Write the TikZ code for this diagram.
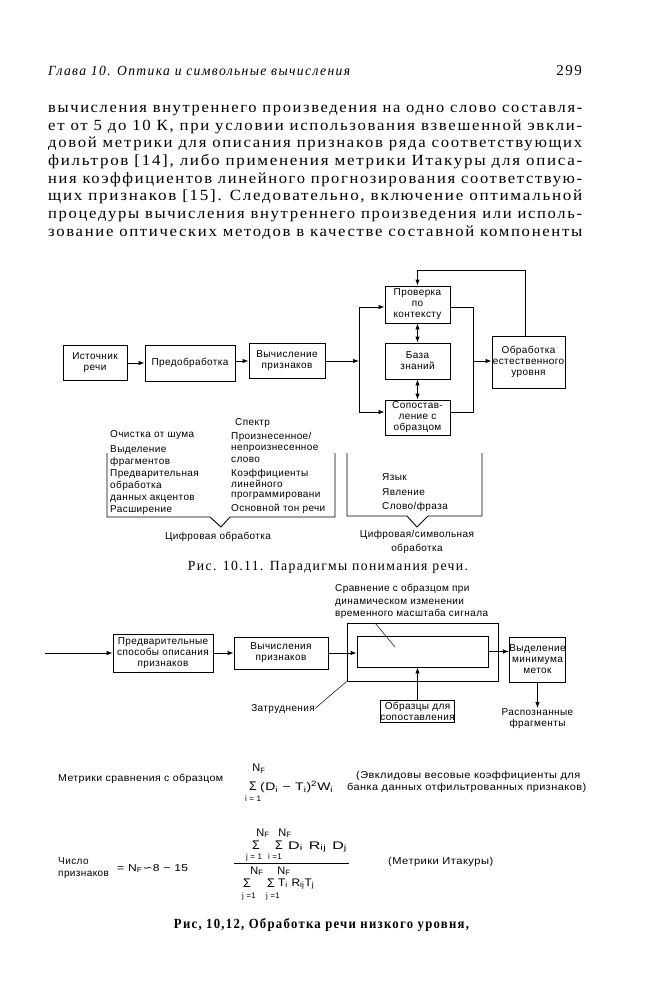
\documentclass[tikz,border=0pt]{standalone}
\usepackage{fontspec}
\usepackage{graphicx}
\setmainfont{Liberation Serif}
\newfontfamily\bodyfont[LetterSpace=10]{Liberation Serif}
\newfontfamily\sfnt[LetterSpace=4]{Liberation Sans}
\newfontfamily\symfnt{DejaVu Sans}
\usetikzlibrary{arrows.meta}
\newcommand{\dfont}{\sfnt\fontsize{10}{11}\selectfont}
\newcommand{\ffont}{\sfnt\fontsize{10}{11}\selectfont}
\newcommand{\fbody}{\sfnt\fontsize{11}{12}\selectfont}
\newcommand{\flim}{\sfnt\fontsize{8}{9}\selectfont}
\newcommand{\bodysz}{\bodyfont\fontsize{15.5}{17.7}\selectfont}
\newcommand{\sgm}{{\sfnt\fontsize{12.5}{13}\selectfont Σ}}
\newcommand{\NF}{N\textsubscript{F}}
\newcommand{\fitw}[2]{\resizebox{#1}{\height}{#2}}
\tikzset{
  box/.style={draw, line width=0.9pt, inner sep=0pt, align=center, font=\dfont},
  arr/.style={-{Latex[length=6pt,width=4.5pt]}, line width=0.9pt},
  darr/.style={{Latex[length=6pt,width=4.5pt]}-{Latex[length=6pt,width=4.5pt]}, line width=0.9pt},
  ln/.style={line width=0.9pt},
  thinln/.style={line width=0.5pt},
  lbl/.style={font=\dfont, inner sep=0pt, anchor=base west},
  lblc/.style={font=\dfont, inner sep=0pt, anchor=base},
  body/.style={font=\bodysz, inner sep=0pt, anchor=base west},
  fml/.style={font=\fbody, inner sep=0pt, anchor=base},
  fmlw/.style={font=\fbody, inner sep=0pt, anchor=base west},
  flm/.style={font=\flim, inner sep=0pt, anchor=base},
  ftx/.style={font=\ffont, inner sep=0pt, anchor=base west},
  sig/.style={inner sep=0pt, anchor=base},
}
\begin{document}
\begin{tikzpicture}[x=1pt,y=-1pt]
\path[use as bounding box, fill=white] (0,0) rectangle (654,1000);

% ---------- header ----------
\node[inner sep=0pt, anchor=base west, font=\bodyfont\itshape\fontsize{14}{16}\selectfont] (hdr) at (48,76) {\fitw{302pt}{Глава 10. Оптика и символьные вычисления}};
\node[inner sep=0pt, anchor=base east, font=\bodyfont\fontsize{15}{17}\selectfont] (pg) at (582,76) {299};

% ---------- body text ----------
\node[body] (t1) at (48,112.5) {\fitw{534pt}{вычисления внутреннего произведения на одно слово составля-}};
\node[body] (t2) at (48,130.2) {\fitw{534pt}{ет от 5 до 10 К, при условии использования взвешенной эвкли-}};
\node[body] (t3) at (48,147.9) {\fitw{534pt}{довой метрики для описания признаков ряда соответствующих}};
\node[body] (t4) at (48,165.6) {\fitw{534pt}{фильтров {[}14{]}, либо применения метрики Итакуры для описа-}};
\node[body] (t5) at (48,183.3) {\fitw{534pt}{ния коэффициентов линейного прогнозирования соответствую-}};
\node[body] (t6) at (48,201.0) {\fitw{534pt}{щих признаков {[}15{]}. Следовательно, включение оптимальной}};
\node[body] (t7) at (48,218.7) {\fitw{534pt}{процедуры вычисления внутреннего произведения или исполь-}};
\node[body] (t8) at (48,236.4) {\fitw{534pt}{зование оптических методов в качестве составной компоненты}};

% ---------- figure 10.11 ----------
\node[box, minimum width=64pt, minimum height=35pt] (src) at (95,363) {Источник\\речи};
\node[box, minimum width=90pt, minimum height=36pt] (pre) at (190,363) {Предобработка};
\node[box, minimum width=76pt, minimum height=35pt] (feat) at (287,361) {Вычисление\\признаков};
\node[box, minimum width=65pt, minimum height=37pt] (check) at (417.5,304.5) {Проверка\\по\\контексту};
\node[box, minimum width=65pt, minimum height=36pt] (kb) at (417.5,361) {База\\знаний};
\node[box, minimum width=65pt, minimum height=35pt] (match) at (417.5,417.5) {Сопостав-\\ление с\\образцом};
\node[box, minimum width=73pt, minimum height=52pt] (nat) at (528.5,362) {Обработка\\естественного\\уровня};

\coordinate (sT) at (359,307);
\coordinate (sM) at (359,361);
\coordinate (sB) at (359,412);
\coordinate (mT) at (473,307);
\coordinate (mM) at (473,361);
\coordinate (mB) at (473,412);
\coordinate (fb1) at (525,270);
\coordinate (fb2) at (417.5,270);

\draw[arr] (src.east |- pre.west) -- (pre.west);
\draw[arr] (pre.east |- feat.west) -- (feat.west);
\draw[arr] (feat.east) -- (sM);
\draw[ln] (sT) -- (sB);
\draw[arr] (sT) -- (sT -| check.west);
\draw[arr] (sB) -- (sB -| match.west);
\draw[darr] (check.south) -- (kb.north);
\draw[darr] (kb.south) -- (match.north);
\draw[ln] (mT -| check.east) -- (mT) -- (mB) -- (mB -| match.east);
\draw[arr] (mM) -- (mM -| nat.west);
\draw[arr] (fb1 |- nat.north) -- (fb1) -- (fb2) -- (check.north);

% lower labels
\node[lbl] (cs) at (235,425) {Спектр};
\node[lbl] (cl1) at (110,437) {Очистка от шума};
\node[lbl] (cl2) at (110,452) {Выделение};
\node[lbl] (cl3) at (110,464) {фрагментов};
\node[lbl] (cl4) at (110,476) {Предварительная};
\node[lbl] (cl5) at (110,488) {обработка};
\node[lbl] (cl6) at (110,500) {данных акцентов};
\node[lbl] (cl7) at (110,512) {Расширение};
\node[lbl] (cr1) at (231,439) {Произнесенное/};
\node[lbl] (cr2) at (231,450) {непроизнесенное};
\node[lbl] (cr3) at (231,462) {слово};
\node[lbl] (cr4) at (231,476) {Коэффициенты};
\node[lbl] (cr5) at (231,487) {линейного};
\node[lbl] (cr6) at (231,497) {программировани};
\node[lbl] (cr7) at (231,511) {Основной тон речи};
\node[lbl] (d1) at (382,480) {Язык};
\node[lbl] (d2) at (382,495) {Явление};
\node[lbl] (d3) at (382,509) {Слово/фраза};

\draw[ln] (107,453) -- (107,517) -- (210,517) -- (221,527) -- (230,517) -- (335,517) -- (335,453);
\draw[ln] (347,453) -- (347,516) -- (407,516) -- (417,527) -- (428,516) -- (482,516) -- (482,453);

\node[lblc] (cap1) at (218,539) {Цифровая обработка};
\node[lblc] (cap2a) at (417,537) {Цифровая/символьная};
\node[lblc] (cap2b) at (417,551) {обработка};

\node[inner sep=0pt, anchor=base, font=\bodyfont\fontsize{14}{16}\selectfont] (fig1) at (328,570) {\fitw{280pt}{Рис. 10.11. Парадигмы понимания речи.}};

% ---------- figure 10.12 ----------
\node[box, minimum width=100pt, minimum height=38pt] (b1) at (163,653) {Предварительные\\способы описания\\признаков};
\node[box, minimum width=94pt, minimum height=32pt] (b2) at (281,653) {Вычисления\\признаков};
\node[draw, line width=0.9pt, minimum width=151pt, minimum height=58pt, inner sep=0pt] (outer) at (422.5,652) {};
\node[draw, line width=0.9pt, minimum width=131pt, minimum height=31pt, inner sep=0pt] (inner) at (422.5,651.5) {};
\node[box, minimum width=51pt, minimum height=45pt] (sel) at (537.5,659.5) {Выделение\\минимума\\меток};
\node[box, minimum width=71pt, minimum height=22pt] (samp) at (417.5,711) {Образцы для\\сопоставления};
\coordinate (in0) at (45,653);

\draw[arr] (in0) -- (in0 -| b1.west);
\draw[arr] (b1.east) -- (b2.west);
\draw[arr] (b2.east) -- (b2.east -| inner.west);
\draw[arr] (inner.east) -- (inner.east -| sel.west);
\draw[arr] (samp.north) -- (samp.north |- inner.south);

\node[font=\dfont, inner sep=0pt, align=center, anchor=north] (rec) at (537.5,708) {Распознанные\\фрагменты};
\draw[arr] (sel.south) -- (rec.north);

\node[lbl] (dtw1) at (335,591) {Сравнение с образцом при};
\node[lbl] (dtw2) at (335,604) {динамическом изменении};
\node[lbl] (dtw3) at (335,616) {временного масштаба сигнала};
\coordinate (ld1) at (375,623);
\coordinate (ld2) at (395,647);
\draw[thinln] (ld1) -- (ld2);

\node[font=\dfont, inner sep=0pt, anchor=base east] (zat) at (315,711) {Затруднения};
\draw[thinln] (zat.east) -- (outer.south west);

% ---------- formulas ----------
\node[ftx] (m1) at (58,781.5) {\fitw{165pt}{Метрики сравнения с образцом}};
\node[sig] (f1s) at (253,790) {\sgm};
\node[fml] (f1n) at (259,771.5) {\NF};
\node[flm] (f1l) at (253,801.5) {i = 1};
\node[fmlw] (f1b) at (260,790.5) {\fitw{73pt}{(D\textsubscript{i} − T\textsubscript{i})\textsuperscript{2}W\textsubscript{i}}};
\node[ftx] (e1) at (356,778) {\fitw{224pt}{(Эвклидовы весовые коэффициенты для}};
\node[ftx] (e2) at (347,790) {\fitw{239pt}{банка данных отфильтрованных признаков)}};

\node[ftx] (n1) at (58,864) {Число};
\node[ftx] (n2) at (58,876.5) {признаков};
\node[ftx] (n3) at (117,871) {\fitw{71pt}{= \NF{\symfnt ∽}8 − 15}};

\node[fml] (a1) at (263,836) {\NF};
\node[fml] (a2) at (285,836) {\NF};
\node[sig] (a3) at (256,849) {\sgm};
\node[sig] (a4) at (279,849) {\sgm};
\node[flm] (a5) at (254,859) {j = 1};
\node[flm] (a6) at (275,859) {i =1};
\node[fmlw] (a7) at (288,849) {\fitw{59pt}{D\textsubscript{i}\hspace{4pt}R\textsubscript{ij}\hspace{4pt}D\textsubscript{j}}};
\draw[ln] (234,863) -- (349,863);
\node[fml] (b3) at (257,874) {\NF};
\node[fml] (b4) at (284,874) {\NF};
\node[sig] (b5) at (247,887.5) {\sgm};
\node[sig] (b6) at (271,887.5) {\sgm};
\node[flm] (b7) at (249,898) {j =1};
\node[flm] (b8) at (273,898) {j =1};
\node[fmlw] (b9) at (278,886) {\fitw{36pt}{T\textsubscript{i} R\textsubscript{ij}T\textsubscript{j}}};

\node[ftx] (it) at (388,864) {\fitw{105pt}{(Метрики Итакуры)}};

\node[inner sep=0pt, anchor=base, font=\bodyfont\bfseries\fontsize{14}{16}\selectfont] (fig2) at (321.5,928) {\fitw{295pt}{Рис, 10,12, Обработка речи низкого уровня,}};
\end{tikzpicture}
\end{document}
